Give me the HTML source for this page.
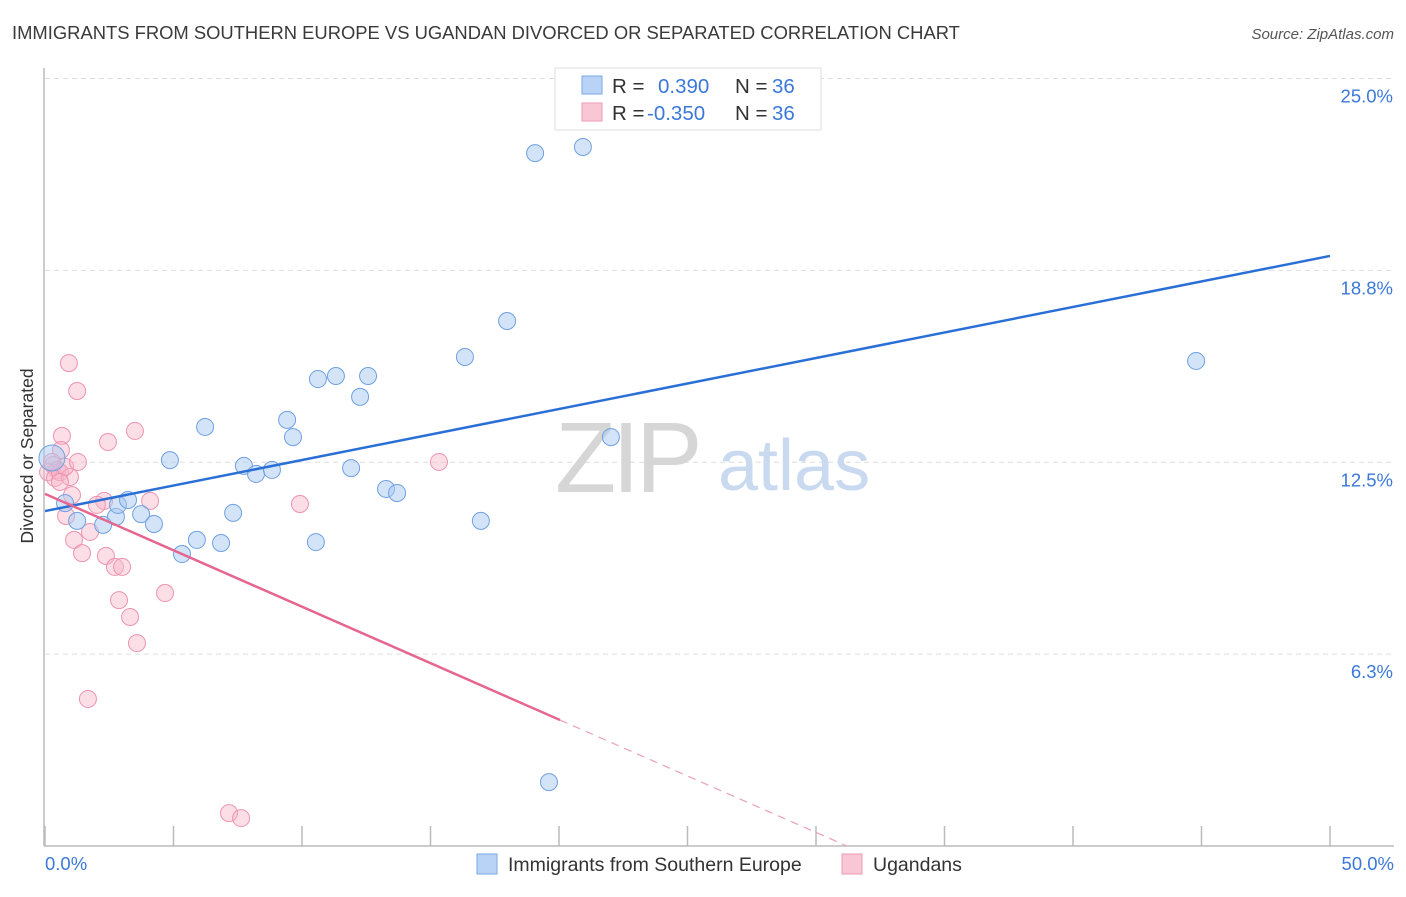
<!DOCTYPE html>
<html><head><meta charset="utf-8"><style>
body{margin:0;background:#fff;font-family:"Liberation Sans",sans-serif;}
svg text{font-family:"Liberation Sans",sans-serif;}
</style></head><body>
<svg id="chart" width="1406" height="892" viewBox="0 0 1406 892" xmlns="http://www.w3.org/2000/svg">
<text x="12" y="39" font-size="18.4" fill="#3a3a3a">IMMIGRANTS FROM SOUTHERN EUROPE VS UGANDAN DIVORCED OR SEPARATED CORRELATION CHART</text>
<text x="1394" y="39" font-size="15" fill="#555" text-anchor="end" font-style="italic">Source: ZipAtlas.com</text>
<g id="grid"></g>
<g>
<text x="555" y="492" font-size="100" fill="#d6d6d6" font-family="Liberation Serif,serif" letter-spacing="-4">ZIP</text>
<text x="718" y="490" font-size="72" fill="#c9d9ef">atlas</text>
</g>
<line x1="44" y1="68" x2="44" y2="846" stroke="#bbb" stroke-width="1.5"/>
<line x1="44" y1="846" x2="1394" y2="846" stroke="#bbb" stroke-width="1.5"/>
<g id="ticks"></g>
<g id="ylabels"></g>
<text transform="translate(33,456) rotate(-90)" text-anchor="middle" font-size="17.5" fill="#333">Divorced or Separated</text>
<text x="45" y="870" font-size="18.5" fill="#3b78d8">0.0%</text>
<text x="1394" y="870" font-size="18.5" fill="#3b78d8" text-anchor="end">50.0%</text>
<g id="pink"></g>
<g id="blue"></g>
<g id="trends"></g>
<g>
<rect x="555" y="68" width="266" height="62" fill="#fff" stroke="#ddd"/>
<rect x="582" y="76" width="20" height="18" fill="#b8d3f5" stroke="#7aa8e8"/>
<rect x="582" y="103" width="20" height="18" fill="#f9c6d5" stroke="#ee99b3"/>
<text x="612" y="93" font-size="20.5" fill="#333">R =</text>
<text x="658" y="93" font-size="20.5" fill="#3b78d8">0.390</text>
<text x="735" y="93" font-size="20.5" fill="#333">N =</text>
<text x="772" y="93" font-size="20.5" fill="#3b78d8">36</text>
<text x="612" y="120" font-size="20.5" fill="#333">R =</text>
<text x="647" y="120" font-size="20.5" fill="#3b78d8">-0.350</text>
<text x="735" y="120" font-size="20.5" fill="#333">N =</text>
<text x="772" y="120" font-size="20.5" fill="#3b78d8">36</text>
</g>
<g>
<rect x="477" y="854" width="20" height="20" fill="#b8d3f5" stroke="#7aa8e8"/>
<text x="508" y="871" font-size="19.5" fill="#333">Immigrants from Southern Europe</text>
<rect x="842" y="854" width="20" height="20" fill="#f9c6d5" stroke="#ee99b3"/>
<text x="873" y="871" font-size="19.5" fill="#333">Ugandans</text>
</g>
</svg>
<script>
const yTicks=[6.25,12.5,18.75,25];
const yTickLabels=["6.3%","12.5%","18.8%","25.0%"];
const xTicks=[0,5,10,15,20,25,30,35,40,45,50];
const blueX=[0.27,0.78,1.25,2.26,2.76,2.84,3.23,3.74,4.24,4.86,5.33,5.91,6.23,6.85,7.32,7.74,8.21,8.83,9.42,9.65,10.54,10.62,11.32,11.91,12.26,12.57,13.27,13.70,16.34,16.96,17.98,19.07,19.61,20.93,22.02,44.79];
const blueY=[12.64,11.17,10.59,10.46,10.72,11.11,11.27,10.81,10.49,12.57,9.51,9.97,13.65,9.87,10.85,12.38,12.12,12.25,13.88,13.32,9.90,15.21,15.31,12.31,14.63,15.31,11.63,11.50,15.93,10.59,17.10,22.57,2.08,22.77,13.32,15.80];
const pinkX=[0.93,1.25,0.66,0.62,0.31,0.47,0.12,0.39,0.58,0.97,0.78,1.28,1.05,0.82,1.13,1.75,1.44,2.45,2.30,2.02,2.37,2.72,3.00,2.88,3.31,3.58,3.50,4.09,4.67,1.67,7.16,7.63,9.92,15.33,0.27,0.58];
const pinkY=[15.73,14.82,13.36,12.90,12.41,12.25,12.18,11.99,12.18,12.02,12.35,12.51,11.43,10.75,9.97,10.23,9.54,13.16,11.24,11.11,9.45,9.09,9.09,8.01,7.46,6.61,13.52,11.24,8.24,4.79,1.07,0.91,11.14,12.51,12.51,11.86];
const blueTrend=[10.91,19.22];
const pinkTrend=[11.47,-0.3676];
const pinkSolidEnd=20.04;

const NS="http://www.w3.org/2000/svg";
const X=v=>45+v*25.7, Y=v=>846-v*30.7;
function mk(t,a,p){const e=document.createElementNS(NS,t);for(const k in a)e.setAttribute(k,a[k]);p.appendChild(e);return e;}
const grid=document.getElementById('grid'),yl=document.getElementById('ylabels'),tk=document.getElementById('ticks');
yTicks.forEach((v,i)=>{
 const l=mk('line',{x1:45,x2:1394,y1:Y(v),y2:Y(v),stroke:'#ddd','stroke-dasharray':'5,4'},grid);
 
 
 const t=mk('text',{x:1393,y:Y(v)+24,'font-size':18.5,fill:'#3b78d8','text-anchor':'end'},yl);
 t.textContent=yTickLabels[i];
 
 
});
xTicks.forEach(v=>{
 const l=mk('line',{x1:X(v),x2:X(v),y1:826,y2:846,stroke:'#bbb','stroke-width':1.5},tk);
 
 
});
const pg=document.getElementById('pink');
pinkX.forEach((x,i)=>{
 const c=mk('circle',{cx:X(x),cy:Y(pinkY[i]),r:8.5,fill:'rgba(248,182,202,0.45)',stroke:'#ec93b0','stroke-width':1},pg);
 
 
});
const bg=document.getElementById('blue');
blueX.forEach((x,i)=>{
 const c=mk('circle',{cx:X(x),cy:Y(blueY[i]),r:i===0?13:8.5,fill:'rgba(170,202,242,0.5)',stroke:'#6fa0e0','stroke-width':1},bg);
 
 
});
const tr=document.getElementById('trends');
const b=mk('line',{x1:X(0),y1:Y(blueTrend[0]),x2:X(50),y2:Y(blueTrend[1]),stroke:'#2a6fd6','stroke-width':2.5},tr);


const py=x=>pinkTrend[0]+pinkTrend[1]*x;
const p1=mk('line',{x1:X(0),y1:Y(py(0)),x2:X(pinkSolidEnd),y2:Y(py(pinkSolidEnd)),stroke:'#e5668f','stroke-width':2.5},tr);


const xz=-pinkTrend[0]/pinkTrend[1];
const p2=mk('line',{x1:X(pinkSolidEnd),y1:Y(py(pinkSolidEnd)),x2:X(xz),y2:Y(0),stroke:'#e9a0b8','stroke-width':1.2,'stroke-dasharray':'8,6'},tr);


</script>
</body></html>
